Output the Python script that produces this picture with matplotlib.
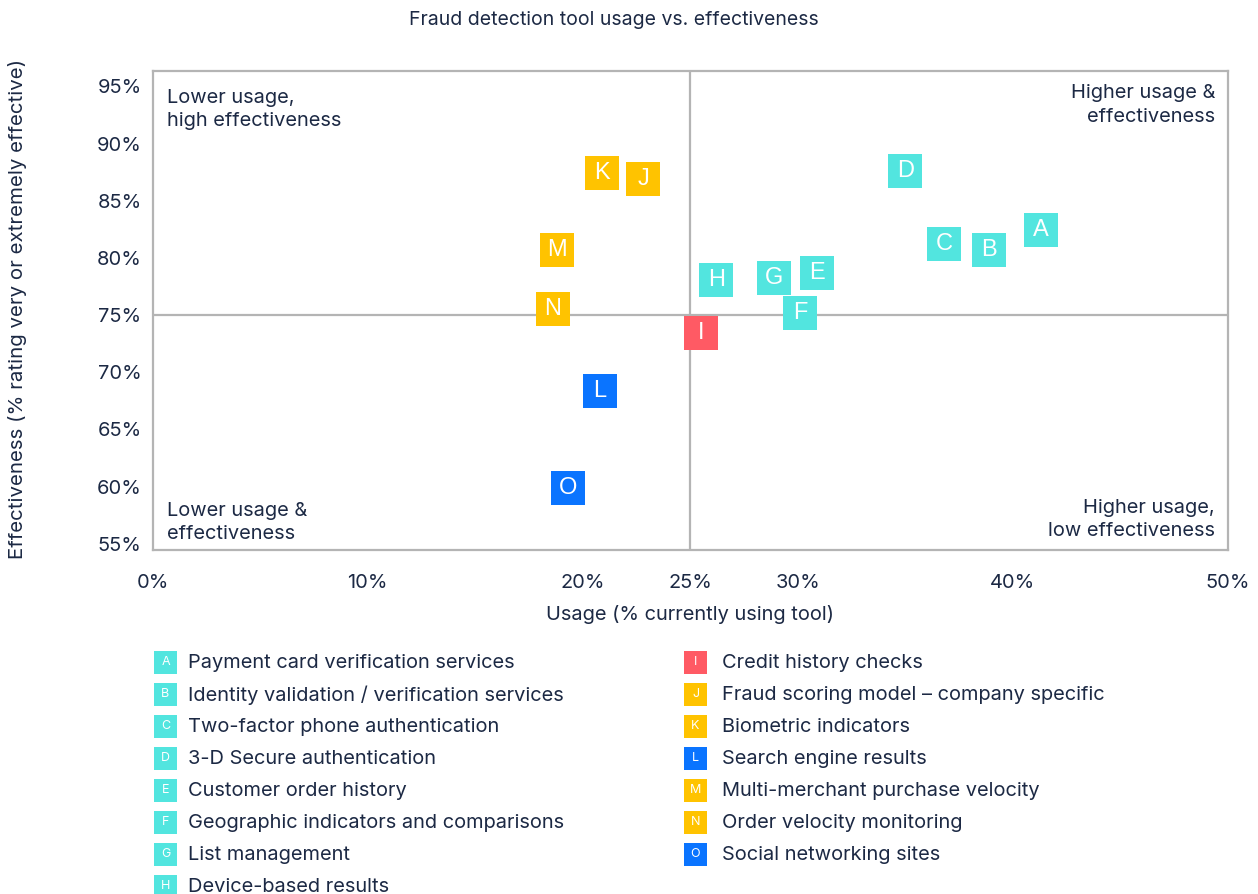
import matplotlib.pyplot as plt
from matplotlib.patches import Rectangle

# datos
codes = ['A', 'B', 'C', 'D', 'E', 'F', 'G', 'H', 'I', 'J', 'K', 'L', 'M', 'N', 'O']
labels = [
    'Payment card verification services',
    'Identity validation / verification services',
    'Two-factor phone authentication',
    '3-D Secure authentication',
    'Customer order history',
    'Geographic indicators and comparisons',
    'List management',
    'Device-based results',
    'Credit history checks',
    'Fraud scoring model \u2013 company specific',
    'Biometric indicators',
    'Search engine results',
    'Multi-merchant purchase velocity',
    'Order velocity monitoring',
    'Social networking sites',
]
usage = [41.3, 38.9, 36.8, 35.0, 30.9, 30.1, 28.9, 26.2, 25.5, 22.8, 20.9, 20.8, 18.8, 18.6, 19.3]
effectiveness = [82.4, 80.7, 81.2, 87.6, 78.7, 75.2, 78.2, 78.1, 73.4, 86.9, 87.4, 68.4, 80.7, 75.5, 59.9]
groups = ['teal'] * 8 + ['red', 'yellow', 'yellow', 'blue', 'yellow', 'yellow', 'blue']

colors = {'teal': '#52e5df', 'red': '#ff5a64', 'yellow': '#ffc300', 'blue': '#0a74ff'}
text_color = '#1c2944'
line_color = '#b4b4b4'

x_ticks = [0, 10, 20, 25, 30, 40, 50]
y_ticks = [55, 60, 65, 70, 75, 80, 85, 90, 95]

plt.rcParams['font.family'] = ['Inter', 'DejaVu Sans']

W, H = 1258, 894
fig = plt.figure(figsize=(W / 100, H / 100), dpi=100)
ax = fig.add_axes([152.7 / W, 1 - 550 / H, (1228 - 152.7) / W, (550 - 71) / H])

ax.set_xlim(0, 50)
ax.set_ylim(54.45, 96.35)

# lineas de cuadrantes
ax.axvline(25, color=line_color, lw=1.6, zorder=1)
ax.axhline(75, color=line_color, lw=1.6, zorder=1)

for x, y, c, g in zip(usage, effectiveness, codes, groups):
    ax.plot(x, y, marker='s', markersize=24.5, markeredgewidth=0,
            color=colors[g], linestyle='none', zorder=3)
    ax.text(x, y, c, ha='center', va='center', color='white', fontsize=17,
            family='Liberation Sans', zorder=4)

ax.set_xticks(x_ticks)
ax.set_xticklabels([f'{t}%' for t in x_ticks])
ax.set_yticks(y_ticks)
ax.set_yticklabels([f'{t}%' for t in y_ticks])
ax.tick_params(length=0, labelsize=14.4, colors=text_color)
ax.tick_params(axis='x', pad=17)
ax.tick_params(axis='y', pad=8)
for s in ax.spines.values():
    s.set_color(line_color)
    s.set_linewidth(1.6)

qfs = 14.4
ls = 1.38
ax.text(0.013, 0.963, 'Lower usage,\nhigh effectiveness', transform=ax.transAxes,
        ha='left', va='top', fontsize=qfs, color=text_color, linespacing=ls)
ax.text(0.988, 0.972, 'Higher usage &\neffectiveness', transform=ax.transAxes,
        ha='right', va='top', fontsize=qfs, color=text_color, linespacing=ls, multialignment='right')
ax.text(0.013, 0.014, 'Lower usage &\neffectiveness', transform=ax.transAxes,
        ha='left', va='bottom', fontsize=qfs, color=text_color, linespacing=ls)
ax.text(0.988, 0.021, 'Higher usage,\nlow effectiveness', transform=ax.transAxes,
        ha='right', va='bottom', fontsize=qfs, color=text_color, linespacing=ls, multialignment='right')

fig.text(614 / W, 1 - 20 / H, 'Fraud detection tool usage vs. effectiveness',
         ha='center', va='center', fontsize=14, color=text_color)
fig.text(690 / W, 1 - 614 / H, 'Usage (% currently using tool)',
         ha='center', va='center', fontsize=14.4, color=text_color)
fig.text(18 / W, 1 - 309 / H, 'Effectiveness (% rating very or extremely effective)',
         ha='center', va='center', rotation=90, fontsize=14.7, color=text_color)

# leyenda en dos columnas
sq = 23
for i, (c, lab, g) in enumerate(zip(codes, labels, groups)):
    col = 0 if i < 8 else 1
    row = i if i < 8 else i - 8
    sx = 154 if col == 0 else 684
    tx = 188 if col == 0 else 722
    cy = 662 + 32 * row
    fig.add_artist(Rectangle((sx / W, 1 - (cy + sq / 2) / H), sq / W, sq / H,
                             transform=fig.transFigure, color=colors[g], lw=0))
    fig.text((sx + sq / 2) / W, 1 - cy / H, c, ha='center', va='center',
             color='white', fontsize=9)
    fig.text(tx / W, 1 - (cy + 1) / H, lab, ha='left', va='center',
             fontsize=14.4, color=text_color)

fig.savefig('out.png', dpi=100)
